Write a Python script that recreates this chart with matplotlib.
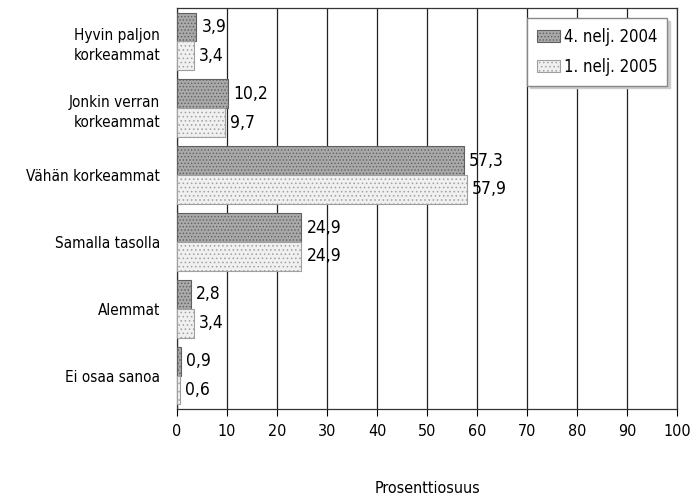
import matplotlib
matplotlib.use("Agg")
import matplotlib.pyplot as plt
import numpy as np

plt.rcParams['font.family'] = ['DejaVu Sans']
plt.rcParams['font.stretch'] = 'condensed'
plt.rcParams['hatch.linewidth'] = 0.6

categories = ["Hyvin paljon\nkorkeammat", "Jonkin verran\nkorkeammat", "Vähän korkeammat",
              "Samalla tasolla", "Alemmat", "Ei osaa sanoa"]
q4_2004 = [3.9, 10.2, 57.3, 24.9, 2.8, 0.9]
q1_2005 = [3.4, 9.7, 57.9, 24.9, 3.4, 0.6]
series_names = ["4. nelj. 2004", "1. nelj. 2005"]

fig = plt.figure(figsize=(6.91, 4.97), dpi=100)
ax = fig.add_axes([0.256, 0.177, 0.724, 0.807])

y = np.arange(len(categories))
h = 0.43

# two series, dotted hatch like the printed original
ax.barh(y - h / 2, q4_2004, height=h, color='#a9a9a9', edgecolor='#606060',
        hatch='.....', linewidth=0.8, label=series_names[0], zorder=3)
ax.barh(y + h / 2, q1_2005, height=h, color='#f0f0f0', edgecolor='#a0a0a0',
        hatch='....', linewidth=0.8, label=series_names[1], zorder=3)

# value labels with decimal comma
for yy, v in zip(y - h / 2, q4_2004):
    ax.text(v + 1.0, yy, f"{v:.1f}".replace('.', ','), va='center', ha='left', fontsize=12.5)
for yy, v in zip(y + h / 2, q1_2005):
    ax.text(v + 1.0, yy, f"{v:.1f}".replace('.', ','), va='center', ha='left', fontsize=12.5)

ax.set_xlim(0, 100)
ax.set_ylim(len(categories) - 0.5, -0.5)
ax.set_xticks(range(0, 101, 10))
ax.set_yticks(y)
ax.set_yticklabels(categories, fontsize=11, linespacing=1.45)
ax.tick_params(axis='y', length=0, pad=12)
ax.tick_params(axis='x', length=5, labelsize=11.5, pad=6)
ax.xaxis.grid(True, color='#222222', linewidth=0.9, zorder=0)
for s in ax.spines.values():
    s.set_color('#333333')
    s.set_linewidth(0.9)

ax.set_xlabel("Prosenttiosuus", fontsize=11.5, labelpad=30)

ax.legend(loc='upper right', bbox_to_anchor=(0.98, 0.975), borderaxespad=0,
          fontsize=12, fancybox=False,
          shadow={'color': '#cccccc', 'alpha': 1}, framealpha=1, edgecolor='#888888',
          handlelength=1.4, handletextpad=0.2, borderpad=0.6, labelspacing=0.7)

fig.savefig("out.png", dpi=100)
